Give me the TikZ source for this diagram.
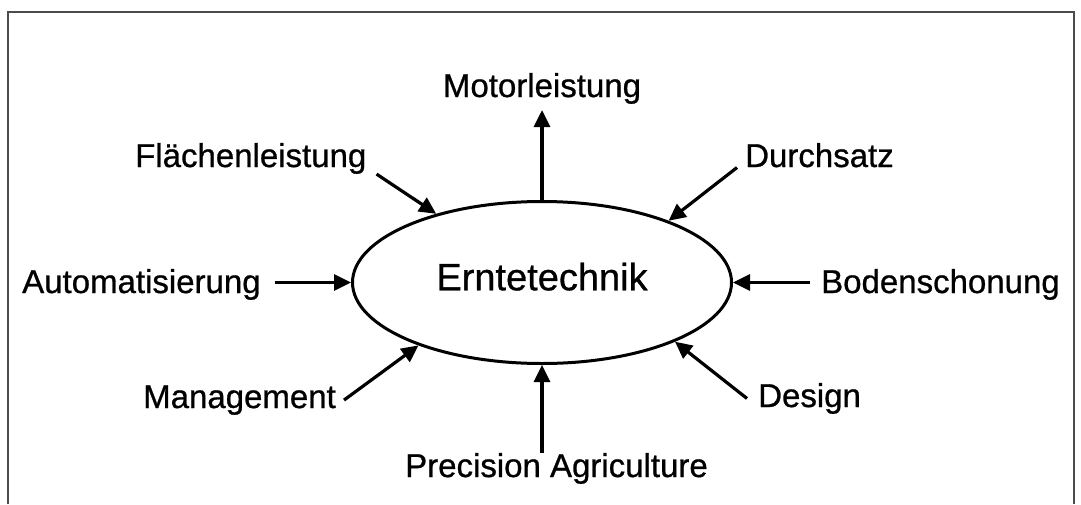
\documentclass[tikz,border=0pt]{standalone}
\usepackage{fontspec}
\setmainfont[FakeBold=0.8]{Liberation Sans}
\usepackage{tikz}
\usetikzlibrary{positioning, arrows.meta, shapes.geometric}

\begin{document}
\begin{tikzpicture}[
    x=1pt, y=-1pt,
    hub/.style={
        ellipse,
        draw=black,
        line width=3pt,
        minimum width=379pt,
        minimum height=162pt,
        inner sep=0pt,
        text depth=12pt,
        font=\fontsize{38}{44}\selectfont
    },
    factor/.style={
        inner sep=0pt,
        font=\fontsize{33}{40}\selectfont
    },
    arrow/.style={
        -{Triangle[length=17pt, width=16pt]},
        line width=3.2pt,
        color=black
    },
    frame/.style={
        draw=black!70,
        line width=1.2pt
    }
]

% Page size and frame
\useasboundingbox (0,0) rectangle (1081,504);
\draw[frame] (8,504) -- (8,12) -- (1074,12) -- (1074,504);

% Center ellipse
\node[hub] (ell) at (542,282.5) {Erntetechnik};

% Factors
\node[factor, anchor=base] (mot) at (542,97) {Motorleistung};
\node[factor, anchor=base west] (flaeche) at (135,167) {Flächenleistung};
\node[factor, anchor=base west] (durch) at (745,167) {Durchsatz};
\node[factor, anchor=base west] (auto) at (22,293) {Automatisierung};
\node[factor, anchor=base west] (boden) at (821,293) {Bodenschonung};
\node[factor, anchor=base west] (manage) at (143,408) {Management};
\node[factor, anchor=base west] (design) at (758,407) {Design};
\node[factor, anchor=base west] (prec) at (405,477) {Precision Agriculture};

% Arrows
\draw[arrow] (ell.north) -- ([yshift=-6pt]mot.south);
\draw[arrow] ([xshift=10pt]flaeche.south east) -- (ell.147);
\draw[arrow] ([xshift=-8pt]durch.south west) -- (ell.26);
\draw[arrow] ([xshift=14pt]auto.east |- ell.west) -- (ell.west);
\draw[arrow] ([xshift=-11pt]boden.west |- ell.east) -- (ell.east);
\draw[arrow] ([xshift=8pt]manage.east) -- (ell.207);
\draw[arrow] ([xshift=-11pt]design.west) -- (ell.336);
\draw[arrow] (prec.north -| ell.south) -- (ell.south);

\end{tikzpicture}
\end{document}
